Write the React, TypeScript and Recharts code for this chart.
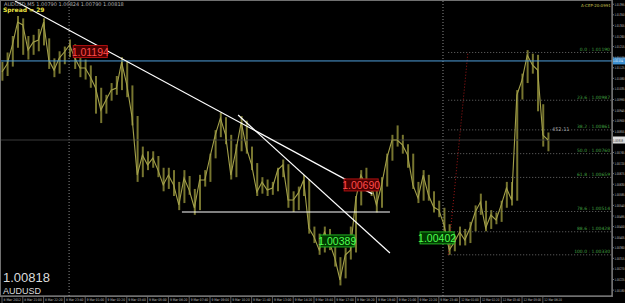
import React from 'react';
import { ComposedChart, Line, Bar, XAxis, YAxis, ReferenceLine, ReferenceDot } from 'recharts';

// AUDUSD M5, sampled every 20 minutes
const closes = [
  1.01107, 1.01141, 1.01222, 1.01319, 1.01307, 1.01200, 1.01234, 1.01243, 1.01319, 1.01158,
  1.01115, 1.01166, 1.01192, 1.01222, 1.01166, 1.01124, 1.01124, 1.01086, 1.01039, 1.00945,
  1.00988, 1.01030, 1.01039, 1.01149, 1.01052, 1.00916, 1.00669, 1.00754, 1.00712, 1.00741,
  1.00690, 1.00627, 1.00669, 1.00627, 1.00542, 1.00656, 1.00605, 1.00529, 1.00648, 1.00648,
  1.00746, 1.00839, 1.00911, 1.00839, 1.00669, 1.00775, 1.00894, 1.00784, 1.00712, 1.00597,
  1.00639, 1.00605, 1.00614, 1.00690, 1.00712, 1.00563, 1.00563, 1.00593, 1.00648, 1.00444,
  1.00406, 1.00350, 1.00427, 1.00380, 1.00316, 1.00223, 1.00329, 1.00350, 1.00563, 1.00669,
  1.00627, 1.00627, 1.00542, 1.00627, 1.00741, 1.00818, 1.00818, 1.00797, 1.00754, 1.00627,
  1.00571, 1.00669, 1.00584, 1.00533, 1.00520, 1.00457, 1.00350, 1.00384, 1.00427, 1.00393,
  1.00444, 1.00512, 1.00554, 1.00444, 1.00499, 1.00478, 1.00542, 1.00614, 1.00563, 1.01009,
  1.01073, 1.01179, 1.01137, 1.01115, 1.00839, 1.00818,
];

const highs = [
  1.01150, 1.01190, 1.01260, 1.01345, 1.01335, 1.01260, 1.01265, 1.01290, 1.01335, 1.01250,
  1.01165, 1.01195, 1.01215, 1.01245, 1.01225, 1.01180, 1.01160, 1.01135, 1.01090, 1.01040,
  1.01010, 1.01060, 1.01090, 1.01170, 1.01150, 1.01050, 1.00920, 1.00790, 1.00770, 1.00770,
  1.00750, 1.00700, 1.00700, 1.00690, 1.00640, 1.00690, 1.00665, 1.00610, 1.00670, 1.00690,
  1.00760, 1.00860, 1.00935, 1.00915, 1.00840, 1.00800, 1.00920, 1.00900, 1.00790, 1.00720,
  1.00660, 1.00650, 1.00640, 1.00700, 1.00735, 1.00715, 1.00600, 1.00620, 1.00670, 1.00650,
  1.00450, 1.00420, 1.00450, 1.00440, 1.00390, 1.00320, 1.00360, 1.00450, 1.00580, 1.00690,
  1.00700, 1.00650, 1.00640, 1.00660, 1.00760, 1.00840, 1.00880, 1.00840, 1.00800, 1.00760,
  1.00640, 1.00690, 1.00670, 1.00600, 1.00560, 1.00530, 1.00460, 1.00410, 1.00450, 1.00440,
  1.00470, 1.00540, 1.00590, 1.00560, 1.00520, 1.00510, 1.00560, 1.00640, 1.00640, 1.01030,
  1.01100, 1.01200, 1.01185, 1.01180, 1.00970, 1.00850,
];

const lows = [
  1.01070, 1.01090, 1.01130, 1.01210, 1.01180, 1.01160, 1.01180, 1.01195, 1.01220, 1.01120,
  1.01085, 1.01100, 1.01140, 1.01170, 1.01120, 1.01085, 1.01075, 1.01040, 1.00930, 1.00890,
  1.00930, 1.00985, 1.01010, 1.01030, 1.01000, 1.00880, 1.00640, 1.00660, 1.00690, 1.00700,
  1.00660, 1.00600, 1.00610, 1.00580, 1.00520, 1.00550, 1.00585, 1.00500, 1.00520, 1.00620,
  1.00640, 1.00740, 1.00830, 1.00800, 1.00650, 1.00660, 1.00770, 1.00760, 1.00690, 1.00580,
  1.00590, 1.00580, 1.00585, 1.00600, 1.00660, 1.00530, 1.00512, 1.00520, 1.00580, 1.00420,
  1.00380, 1.00330, 1.00340, 1.00350, 1.00280, 1.00200, 1.00230, 1.00310, 1.00340, 1.00540,
  1.00600, 1.00580, 1.00510, 1.00530, 1.00620, 1.00730, 1.00790, 1.00760, 1.00700, 1.00610,
  1.00550, 1.00560, 1.00560, 1.00510, 1.00490, 1.00430, 1.00330, 1.00345, 1.00370, 1.00370,
  1.00380, 1.00430, 1.00500, 1.00430, 1.00440, 1.00460, 1.00470, 1.00530, 1.00540, 1.00560,
  1.00990, 1.01060, 1.01100, 1.00940, 1.00790, 1.00770,
];

const timeLabels = [
  '8 Mar 2012', '8 Mar 21:00', '8 Mar 22:20', '8 Mar 23:40', '9 Mar 01:00', '9 Mar 02:20',
  '9 Mar 03:40', '9 Mar 05:00', '9 Mar 06:20', '9 Mar 07:40', '9 Mar 09:00', '9 Mar 10:20',
  '9 Mar 11:40', '9 Mar 13:00', '9 Mar 14:20', '9 Mar 15:40', '9 Mar 17:00', '9 Mar 18:20',
  '9 Mar 19:40', '9 Mar 21:00', '9 Mar 22:20', '9 Mar 23:40', '12 Mar 01:00', '12 Mar 02:20',
  '12 Mar 03:40', '12 Mar 05:00', '12 Mar 06:20',
];
const pointsPerLabel = 4;

const priceTicks = [
  1.01395, 1.01350, 1.01305, 1.01260, 1.01215, 1.01170, 1.01125, 1.01080, 1.01035, 1.00990,
  1.00945, 1.00900, 1.00855, 1.00810, 1.00765, 1.00720, 1.00675, 1.00630, 1.00585, 1.00540,
  1.00495, 1.00450, 1.00405, 1.00360, 1.00315, 1.00270, 1.00225, 1.00180,
];

const xDomain: [number, number] = [-0.385, 117.3];
const yDomain: [number, number] = [1.00155, 1.01413];

const blueLevel = 1.01154;
const bidPrice = 1.00818;

const trendLines = [
  { x1: 2.5, y1: 1.01409, x2: 71.2, y2: 1.00589 },
  { x1: 45.4, y1: 1.00924, x2: 74.6, y2: 1.00338 },
  { x1: 34.6, y1: 1.00512, x2: 74.6, y2: 1.00512 },
];

const separators = [12.9, 84.8];

const fibStart = 85.8;
const fibLevels = [
  { name: '0.0', price: 1.01190 },
  { name: '23.6', price: 1.00987 },
  { name: '38.2', price: 1.00861 },
  { name: '50.0', price: 1.00760 },
  { name: '61.8', price: 1.00659 },
  { name: '78.6', price: 1.00514 },
  { name: '88.6', price: 1.00428 },
  { name: '100.0', price: 1.00330 },
];
const fibBase = { x1: 85.8, y1: 1.00330, x2: 89.6, y2: 1.01192 };

const priceTags = [
  { x: 13.7, y: 1.01194, text: '1.01194', kind: 'red' },
  { x: 65.8, y: 1.00627, text: '1.00690', kind: 'red' },
  { x: 61.2, y: 1.00389, text: '1.00389', kind: 'green' },
  { x: 80.4, y: 1.00402, text: '1.00402', kind: 'green' },
];

const data = closes.map((close, i) => ({ i, close, range: [lows[i], highs[i]] }));
const xTicks = timeLabels.map((_, k) => k * pointsPerLabel);

const tagStyles: Record<string, { fill: string; stroke: string; text: string }> = {
  red: { fill: '#4a0000', stroke: '#b01010', text: '#ff4a4a' },
  green: { fill: '#003a00', stroke: '#20b020', text: '#50ff50' },
};

const XTick = (props: any) => {
  const { x, y, payload } = props;
  const label = timeLabels[Math.round(payload.value / pointsPerLabel)];
  return (
    <g>
      <line x1={x} x2={x} y1={y} y2={y + 7} stroke="#9a9a9a" strokeWidth={0.6} />
      <text
        x={x + 1.5}
        y={y + 5}
        fontSize={3.4}
        fill="#c8c8c8"
        fontFamily="DejaVu Sans"
        textLength={17.5}
        lengthAdjust="spacingAndGlyphs"
      >
        {label}
      </text>
    </g>
  );
};

const YTick = (props: any) => {
  const { x, y, payload } = props;
  return (
    <g>
      <line x1={x - 2} x2={x} y1={y} y2={y} stroke="#c0c0c0" strokeWidth={0.6} />
      <text
        x={x + 0.5}
        y={y + 1.5}
        fontSize={3.6}
        fill="#c8c8c8"
        fontFamily="DejaVu Sans"
        textLength={10}
        lengthAdjust="spacingAndGlyphs"
      >
        {payload.value.toFixed(5)}
      </text>
    </g>
  );
};

const TagShape = (tag: { text: string; kind: string }) => (props: any) => {
  const { cx, cy } = props;
  const s = tagStyles[tag.kind];
  return (
    <g>
      <rect x={cx} y={cy - 6} width={34} height={12} fill={s.fill} stroke={s.stroke} strokeWidth={1} />
      <text x={cx + 17} y={cy + 4} textAnchor="middle" fontSize={10.5} fill={s.text} fontFamily="Liberation Sans">
        {tag.text}
      </text>
    </g>
  );
};

const FibLabel = (name: string, price: number) => (props: any) => {
  const { cx, cy } = props;
  return (
    <text x={cx - 2} y={cy - 1.5} textAnchor="end" fontSize={4.5} fill="#40a040" fontFamily="DejaVu Sans">
      {`${name} : ${price.toFixed(5)}`}
    </text>
  );
};

const AxisBox = (price: number, fill: string, color: string) => (props: any) => {
  const { cx, cy } = props;
  return (
    <g>
      <rect x={cx} y={cy - 3.5} width={13} height={7} fill={fill} />
      <text
        x={cx + 1}
        y={cy + 1.5}
        fontSize={3.6}
        fill={color}
        fontFamily="DejaVu Sans"
        textLength={10}
        lengthAdjust="spacingAndGlyphs"
      >
        {price.toFixed(5)}
      </text>
    </g>
  );
};

export default function App() {
  return (
    <div style={{ position: 'absolute', left: 0, top: 0, width: 625, height: 303, background: '#000', overflow: 'hidden' }}>
      <ComposedChart
        width={625}
        height={303}
        data={data}
        margin={{ top: 0, right: 0, bottom: 0, left: 0 }}
        style={{ background: '#000' }}
      >
        <XAxis
          dataKey="i"
          type="number"
          domain={xDomain}
          allowDataOverflow
          ticks={xTicks}
          interval={0}
          tick={<XTick />}
          tickLine={false}
          tickSize={0}
          tickMargin={0}
          height={7}
          axisLine={{ stroke: '#a0a0a0' }}
        />
        <YAxis
          orientation="right"
          type="number"
          domain={yDomain}
          allowDataOverflow
          ticks={priceTicks}
          interval={0}
          tick={<YTick />}
          tickLine={false}
          tickSize={2}
          tickMargin={0}
          width={13}
          axisLine={{ stroke: '#a0a0a0' }}
        />
        {separators.map((s, k) => (
          <ReferenceLine key={'sep' + k} x={s} stroke="#8a8a8a" strokeDasharray="1 2" strokeWidth={1} />
        ))}
        <ReferenceLine y={bidPrice} stroke="#3a3a3a" strokeWidth={1.2} />
        {fibLevels.map((f) => (
          <ReferenceLine
            key={'fib' + f.name}
            segment={[{ x: fibStart, y: f.price }, { x: xDomain[1], y: f.price }]}
            stroke="#6a6a6a"
            strokeDasharray="1 2"
            ifOverflow="visible"
          />
        ))}
        <ReferenceLine
          segment={[{ x: fibBase.x1, y: fibBase.y1 }, { x: fibBase.x2, y: fibBase.y2 }]}
          stroke="#a01818"
          strokeDasharray="1 2"
          ifOverflow="visible"
        />
        <Bar dataKey="range" barSize={2} fill="#77752f" isAnimationActive={false} />
        <Line
          dataKey="close"
          type="linear"
          stroke="#a3a04a"
          strokeWidth={1.1}
          dot={false}
          activeDot={false}
          isAnimationActive={false}
        />
        <ReferenceLine y={blueLevel} stroke="#4f9fdc" strokeWidth={1} />
        {trendLines.map((t, k) => (
          <ReferenceLine
            key={'tl' + k}
            segment={[{ x: t.x1, y: t.y1 }, { x: t.x2, y: t.y2 }]}
            stroke="#ffffff"
            strokeWidth={1.2}
            ifOverflow="visible"
          />
        ))}
        {fibLevels.map((f) => (
          <ReferenceDot
            key={'fl' + f.name}
            x={xDomain[1]}
            y={f.price}
            r={0}
            ifOverflow="visible"
            shape={FibLabel(f.name, f.price)}
          />
        ))}
        {priceTags.map((t, k) => (
          <ReferenceDot key={'tag' + k} x={t.x} y={t.y} r={0} ifOverflow="visible" shape={TagShape(t)} />
        ))}
        <ReferenceDot x={xDomain[1]} y={blueLevel} r={0} ifOverflow="visible" shape={AxisBox(blueLevel, '#3c8fd0', '#ffffff')} />
        <ReferenceDot x={xDomain[1]} y={bidPrice} r={0} ifOverflow="visible" shape={AxisBox(bidPrice, '#e0e0e0', '#000000')} />
      </ComposedChart>
      <div style={{ position: 'absolute', left: 0, top: 0, width: 611, height: 295, border: '1px solid #707070', pointerEvents: 'none' }} />
      <div style={{ position: 'absolute', left: 4, top: 1, fontSize: 5, color: '#b0b0b0', fontFamily: 'DejaVu Sans', whiteSpace: 'nowrap', lineHeight: '6px' }}>
        AUDUSD,M5  1.00790 1.00824 1.00790 1.00818
      </div>
      <div style={{ position: 'absolute', left: 3, top: 6, fontSize: 6, color: '#e8e040', fontFamily: 'DejaVu Sans', fontWeight: 'bold', whiteSpace: 'nowrap', lineHeight: '7px' }}>
        Spread = 29
      </div>
      <div style={{ position: 'absolute', left: 581, top: 3, fontSize: 4, color: '#c8c050', fontFamily: 'DejaVu Sans', whiteSpace: 'nowrap', lineHeight: '5px' }}>
        A-CEP-20:0991
      </div>
      <div style={{ position: 'absolute', left: 552, top: 126, fontSize: 5, color: '#a0a0a0', fontFamily: 'DejaVu Sans', whiteSpace: 'nowrap', lineHeight: '6px' }}>
        452.11
      </div>
      <div style={{ position: 'absolute', left: 3, top: 271, fontSize: 13, color: '#dcdcdc', fontFamily: 'Liberation Sans', whiteSpace: 'nowrap', lineHeight: '14px' }}>
        1.00818
      </div>
      <div style={{ position: 'absolute', left: 3, top: 286, fontSize: 9, color: '#dcdcdc', fontFamily: 'Liberation Sans', whiteSpace: 'nowrap', lineHeight: '10px' }}>
        AUDUSD
      </div>
    </div>
  );
}
